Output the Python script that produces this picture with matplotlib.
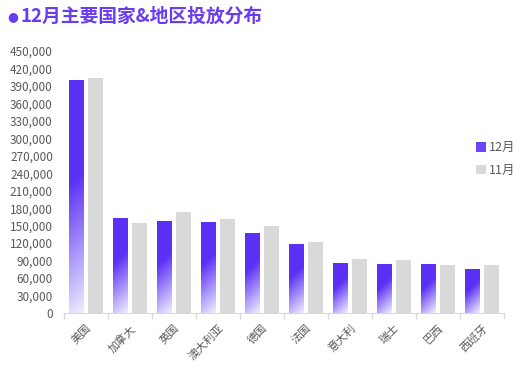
import numpy as np
import matplotlib.pyplot as plt
from matplotlib.colors import to_rgb
from matplotlib.patches import Patch
from matplotlib.ticker import FuncFormatter, MultipleLocator

plt.rcParams['font.family'] = ['Noto Sans CJK SC', 'DejaVu Sans']

countries = ['美国', '加拿大', '英国', '澳大利亚', '德国', '法国', '意大利', '瑞士', '巴西', '西班牙']
dec = [400000, 161500, 158000, 155000, 136000, 118500, 84500, 82500, 82500, 74000]
nov = [403500, 155000, 173500, 161500, 149500, 122000, 92500, 91000, 82500, 82500]

purple = np.array(to_rgb('#5B30F5'))
pale = np.array(to_rgb('#F0EEFF'))
grey = '#D9D9D9'
text_c = '#595959'

W, H = 515, 365
fig = plt.figure(figsize=(W / 100, H / 100), dpi=100)
ax = fig.add_axes([64 / W, 1 - 313 / H, 440 / W, 262 / H])

x = np.arange(len(countries))
bw = 0.34
off = 0.216
ymax = 450000
px_x = 44.0            # pixels per category
px_y = 262.0 / ymax    # pixels per unit


def gradient_bar(ax, xc, h):
    # diagonal fade: solid purple top-left, pale bottom-right
    wpx = bw * px_x
    hpx = h * px_y
    n, m = max(int(hpx), 2), max(int(wpx), 2)
    depth = np.linspace(0, hpx, n)[:, None]
    xs = np.linspace(0, wpx, m)[None, :]
    k = 0.9
    s = (depth + k * xs) / (hpx + k * wpx)
    t = np.clip((s - 0.42) / 0.58, 0, 1)
    img = purple[None, None, :] * (1 - t[..., None]) + pale[None, None, :] * t[..., None]
    ax.imshow(img, extent=(xc - bw / 2, xc + bw / 2, 0, h), origin='upper',
              aspect='auto', interpolation='bilinear', zorder=2)


for i in range(len(countries)):
    gradient_bar(ax, x[i] - off, dec[i])
ax.bar(x + off, nov, width=bw, color=grey, zorder=2)

ax.set_xlim(-0.5, len(countries) - 0.5)
ax.set_ylim(0, ymax)

ax.yaxis.set_major_locator(MultipleLocator(30000))
ax.yaxis.set_major_formatter(FuncFormatter(lambda v, p: f'{int(v):,}'))
ax.tick_params(axis='y', length=0, pad=8, labelsize=8.5, labelcolor=text_c)

ax.set_xticks(x)
ax.set_xticklabels(countries, rotation=45, ha='right', rotation_mode='anchor')
ax.set_xticks(np.arange(-0.5, len(countries)), minor=True)
ax.tick_params(axis='x', which='major', length=0, pad=7, labelsize=8, labelcolor=text_c)
ax.tick_params(axis='x', which='minor', length=4, color=grey, width=1)

for sp in ['top', 'right', 'left']:
    ax.spines[sp].set_visible(False)
ax.spines['bottom'].set_color(grey)

handles = [Patch(facecolor='#6A45F6', label='12月'), Patch(facecolor=grey, label='11月')]
fig.legend(handles=handles, loc='center left', bbox_to_anchor=(465 / W, 1 - 159 / H),
           frameon=False, fontsize=9, handlelength=0.75, handleheight=0.75,
           handletextpad=0.3, labelspacing=0.75, labelcolor=text_c)

fig.text(7 / W, 1 - 17 / H, '●', color='#6A3CF0', fontsize=9, va='center', ha='left',
         family=['DejaVu Sans'])
fig.text(21 / W, 1 - 16 / H, '12月主要国家&地区投放分布', color='#6A3CF0', fontsize=13.5,
         fontweight='bold', va='center', ha='left')

fig.savefig('out.png', dpi=100)
